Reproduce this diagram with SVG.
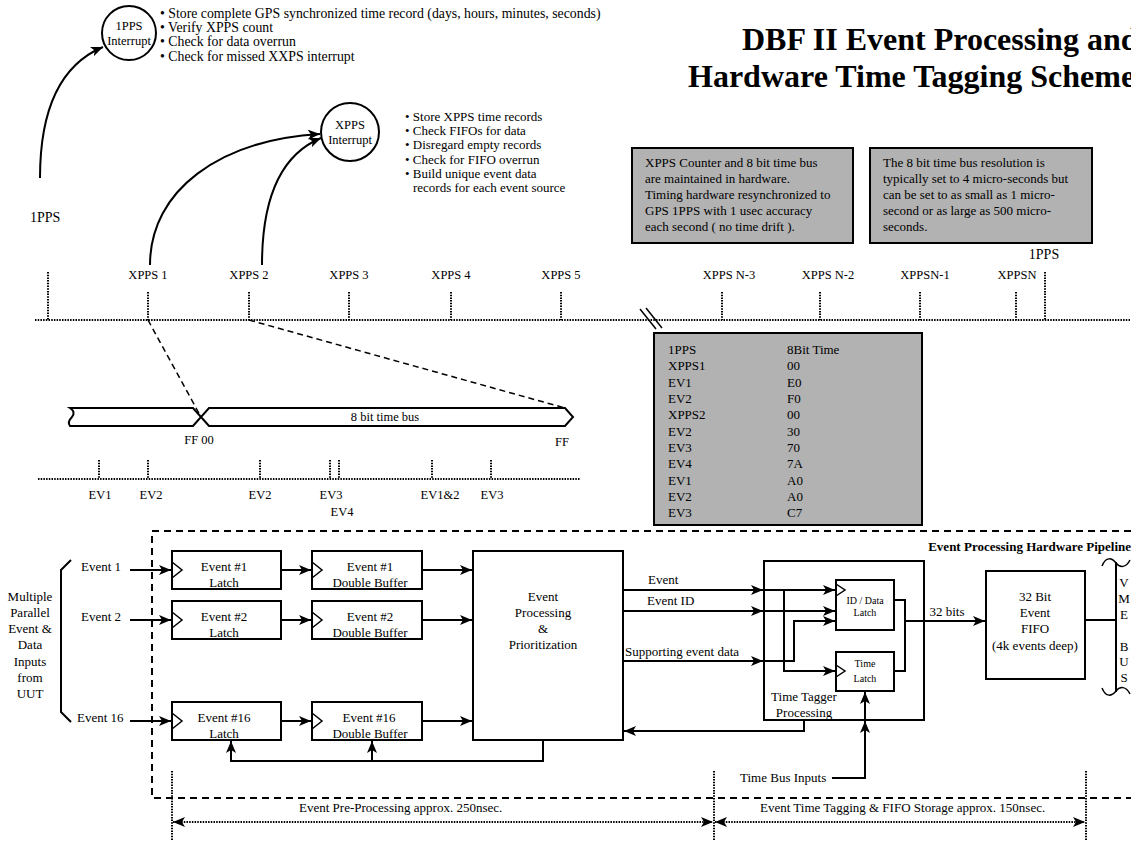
<svg xmlns="http://www.w3.org/2000/svg" width="1131" height="844" viewBox="0 0 1131 844">
<defs>
<marker id="ah" viewBox="0 0 12 10" markerWidth="12" markerHeight="10" refX="12" refY="5" orient="auto-start-reverse" markerUnits="userSpaceOnUse">
<path d="M0,0 L12,5 L0,10 L3,5 Z" fill="#000"/>
</marker>
</defs>
<style>
text{font-family:"Liberation Serif","Times New Roman",serif;fill:#000}
.s10{font-size:10px}.s12{font-size:12.5px}.s13{font-size:13px}.s14{font-size:14px}
.m{text-anchor:middle}
.box{fill:#fff;stroke:#000;stroke-width:2}
.gray{fill:#b2b2b2;stroke:#000;stroke-width:2}
.ln{fill:none;stroke:#000;stroke-width:2}
.thin{fill:none;stroke:#000;stroke-width:1.5}
.dot{fill:none;stroke:#000;stroke-width:2;stroke-dasharray:1.5 1.2}
.dash{fill:none;stroke:#000;stroke-width:2;stroke-dasharray:7 5}
.dash2{fill:none;stroke:#000;stroke-width:1.5;stroke-dasharray:6 4}
.arr{marker-end:url(#ah)}
</style>
<rect width="1131" height="844" fill="#fff"/>

<g id="title">
<text x="742" y="50" font-size="32" font-weight="bold">DBF II Event Processing and</text>
<text x="688" y="87" font-size="32" font-weight="bold">Hardware Time Tagging Scheme</text>
</g>

<g id="pps-interrupt">
<circle cx="129" cy="33" r="27" class="box"/>
<text x="129" y="30" class="s12 m">1PPS</text>
<text x="129" y="45" class="s12 m">Interrupt</text>
</g>
<g id="pps-notes" font-size="13.8">
<text x="160" y="18">• Store complete GPS synchronized time record (days, hours, minutes, seconds)</text>
<text x="160" y="32">• Verify XPPS count</text>
<text x="160" y="46">• Check for data overrun</text>
<text x="160" y="61">• Check for missed XXPS interrupt</text>
</g>

<g id="xpps-interrupt">
<circle cx="350" cy="132" r="29" class="box"/>
<text x="350" y="129" class="s12 m">XPPS</text>
<text x="350" y="144" class="s12 m">Interrupt</text>
</g>
<g id="xpps-notes" class="s13">
<text x="405" y="121">• Store XPPS time records</text>
<text x="405" y="135">• Check FIFOs for data</text>
<text x="405" y="149">• Disregard empty records</text>
<text x="405" y="164">• Check for FIFO overrun</text>
<text x="405" y="178">• Build unique event data</text>
<text x="413" y="192">records for each event source</text>
</g>

<g id="pps-label"><text x="30" y="222" class="s14">1PPS</text></g>

<g id="note1">
<rect x="632" y="148" width="221" height="95" class="gray"/>
<text class="s13"><tspan x="645" y="167">XPPS Counter and 8 bit time bus</tspan><tspan x="645" y="183">are maintained in hardware.</tspan><tspan x="645" y="199">Timing hardware resynchronized to</tspan><tspan x="645" y="215">GPS 1PPS  with 1 usec accuracy</tspan><tspan x="645" y="231">each second ( no time drift ).</tspan></text>
</g>
<g id="note2">
<rect x="870" y="148" width="222" height="95" class="gray"/>
<text class="s13"><tspan x="883" y="167">The 8 bit time bus resolution is</tspan><tspan x="883" y="183">typically set to 4 micro-seconds but</tspan><tspan x="883" y="199">can be set to as small as 1 micro-</tspan><tspan x="883" y="215">second or as large as 500 micro-</tspan><tspan x="883" y="231">seconds.</tspan></text>
</g>

<g id="timeline">
<line x1="35" y1="320" x2="1131" y2="320" class="dot"/>
<line x1="48" y1="272" x2="48" y2="320" class="dot"/>
<line x1="148" y1="292" x2="148" y2="320" class="dot"/>
<line x1="249" y1="292" x2="249" y2="320" class="dot"/>
<line x1="349" y1="292" x2="349" y2="320" class="dot"/>
<line x1="451" y1="292" x2="451" y2="320" class="dot"/>
<line x1="561" y1="292" x2="561" y2="320" class="dot"/>
<line x1="722" y1="292" x2="722" y2="320" class="dot"/>
<line x1="820" y1="292" x2="820" y2="320" class="dot"/>
<line x1="920" y1="292" x2="920" y2="320" class="dot"/>
<line x1="1016" y1="292" x2="1016" y2="320" class="dot"/>
<line x1="1045" y1="272" x2="1045" y2="320" class="dot"/>
<g class="s12 m">
<text x="148" y="279">XPPS 1</text>
<text x="249" y="279">XPPS 2</text>
<text x="349" y="279">XPPS 3</text>
<text x="451" y="279">XPPS 4</text>
<text x="561" y="279">XPPS 5</text>
<text x="729" y="279">XPPS N-3</text>
<text x="828" y="279">XPPS N-2</text>
<text x="925" y="279">XPPSN-1</text>
<text x="1017" y="279">XPPSN</text>
</g>
<text x="1044" y="259" class="s14 m">1PPS</text>
<line x1="640" y1="309" x2="656" y2="329" class="thin"/>
<line x1="646" y1="308" x2="662" y2="328" class="thin"/>
</g>

<g id="timebus">
<path d="M70,408 H193 L201,417 L193,426 H70 Q67,422 72,417 Q76,412 70,408 Z" class="box"/>
<path d="M209,408 H565 L573,417 L565,426 H209 L201,417 Z" class="box"/>
<text x="385" y="421" class="s12 m">8 bit time bus</text>
<text x="199" y="444" class="s12 m">FF 00</text>
<text x="562" y="446" class="s12 m">FF</text>
</g>

<g id="ev-timeline">
<line x1="38" y1="479" x2="580" y2="479" class="dot"/>
<line x1="99" y1="460" x2="99" y2="479" class="dot"/>
<line x1="148" y1="460" x2="148" y2="479" class="dot"/>
<line x1="260" y1="460" x2="260" y2="479" class="dot"/>
<line x1="330" y1="460" x2="330" y2="479" class="dot"/>
<line x1="339" y1="460" x2="339" y2="479" class="dot"/>
<line x1="432" y1="460" x2="432" y2="479" class="dot"/>
<line x1="491" y1="460" x2="491" y2="479" class="dot"/>
<g class="s12 m">
<text x="100" y="499">EV1</text>
<text x="151" y="499">EV2</text>
<text x="260" y="499">EV2</text>
<text x="331" y="499">EV3</text>
<text x="342" y="516">EV4</text>
<text x="440" y="499">EV1&amp;2</text>
<text x="492" y="499">EV3</text>
</g>
</g>

<g id="table">
<rect x="654" y="333" width="268" height="192" class="gray"/>
<g class="s13">
<text x="668" y="354">1PPS</text><text x="787" y="354">8Bit Time</text>
<text x="668" y="370">XPPS1</text><text x="787" y="370">00</text>
<text x="668" y="387">EV1</text><text x="787" y="387">E0</text>
<text x="668" y="403">EV2</text><text x="787" y="403">F0</text>
<text x="668" y="419">XPPS2</text><text x="787" y="419">00</text>
<text x="668" y="436">EV2</text><text x="787" y="436">30</text>
<text x="668" y="452">EV3</text><text x="787" y="452">70</text>
<text x="668" y="468">EV4</text><text x="787" y="468">7A</text>
<text x="668" y="485">EV1</text><text x="787" y="485">A0</text>
<text x="668" y="501">EV2</text><text x="787" y="501">A0</text>
<text x="668" y="517">EV3</text><text x="787" y="517">C7</text>
</g>
</g>

<g id="pipeline">
<path d="M1131,531 H152 V798 H1131" class="dash"/>
<text x="1131" y="551" font-size="13" font-weight="bold" text-anchor="end">Event Processing Hardware Pipeline</text>
</g>

<g id="inputs">
<path d="M71,560 L61,570 V712 L71,722" class="ln"/>
<g class="s13 m">
<text x="30" y="601">Multiple</text>
<text x="30" y="617">Parallel</text>
<text x="30" y="633">Event &amp;</text>
<text x="30" y="649">Data</text>
<text x="30" y="666">Inputs</text>
<text x="30" y="682">from</text>
<text x="30" y="698">UUT</text>
</g>
<text x="81" y="571" class="s13">Event 1</text>
<text x="81" y="621" class="s13">Event 2</text>
<text x="77" y="722" class="s13">Event 16</text>
</g>

<g id="latch1"><rect x="172" y="551" width="109" height="38" class="box"/><polyline points="172,562 182,570 172,578" class="thin"/><text x="224" y="571" class="s13 m">Event #1</text><text x="224" y="587" class="s13 m">Latch</text></g>
<g id="latch2"><rect x="172" y="601" width="109" height="38" class="box"/><polyline points="172,612 182,620 172,628" class="thin"/><text x="224" y="621" class="s13 m">Event #2</text><text x="224" y="637" class="s13 m">Latch</text></g>
<g id="latch16"><rect x="172" y="702" width="109" height="38" class="box"/><polyline points="172,713 182,721 172,729" class="thin"/><text x="224" y="722" class="s13 m">Event #16</text><text x="224" y="738" class="s13 m">Latch</text></g>
<g id="buf1"><rect x="312" y="551" width="110" height="38" class="box"/><polyline points="312,562 322,570 312,578" class="thin"/><text x="370" y="571" class="s13 m">Event #1</text><text x="370" y="587" class="s13 m">Double Buffer</text></g>
<g id="buf2"><rect x="312" y="601" width="110" height="38" class="box"/><polyline points="312,612 322,620 312,628" class="thin"/><text x="370" y="621" class="s13 m">Event #2</text><text x="370" y="637" class="s13 m">Double Buffer</text></g>
<g id="buf16"><rect x="312" y="702" width="110" height="38" class="box"/><polyline points="312,713 322,721 312,729" class="thin"/><text x="369" y="722" class="s13 m">Event #16</text><text x="370" y="738" class="s13 m">Double Buffer</text></g>

<g id="eventproc">
<rect x="473" y="551" width="150" height="189" class="box"/>
<g class="s13 m">
<text x="543" y="601">Event</text>
<text x="543" y="617">Processing</text>
<text x="543" y="633">&amp;</text>
<text x="543" y="649">Prioritization</text>
</g>
</g>

<g id="timetagger">
<rect x="764" y="561" width="160" height="159" class="box"/>
<text x="804" y="701" class="s13 m">Time Tagger</text>
<text x="804" y="717" class="s13 m">Processing</text>
</g>
<g id="idlatch">
<rect x="836" y="580" width="58" height="50" class="box"/>
<polyline points="836,584 845,590 836,596" class="thin"/>
<text x="865" y="604" class="s10 m">ID / Data</text>
<text x="865" y="616" class="s10 m">Latch</text>
</g>
<g id="timelatch">
<rect x="836" y="652" width="58" height="39" class="box"/>
<polyline points="836,665 845,671 836,677" class="thin"/>
<text x="865" y="667" class="s10 m">Time</text>
<text x="865" y="682" class="s10 m">Latch</text>
</g>

<g id="fifo">
<rect x="986" y="571" width="99" height="108" class="box"/>
<g class="s13 m">
<text x="1035" y="601">32 Bit</text>
<text x="1035" y="617">Event</text>
<text x="1035" y="633">FIFO</text>
<text x="1035" y="650">(4k events deep)</text>
</g>
</g>

<g id="vmebus">
<path d="M1116,562 V692" class="ln"/>
<path d="M1102,566 C1106,556 1112,558 1116,563 C1120,568 1126,568 1130,560" class="thin"/>
<path d="M1102,688 C1106,698 1112,696 1116,691 C1120,686 1126,686 1130,694" class="thin"/>
<g class="s13 m">
<text x="1124" y="587">V</text>
<text x="1124" y="603">M</text>
<text x="1124" y="619">E</text>
<text x="1124" y="651">B</text>
<text x="1124" y="666">U</text>
<text x="1124" y="682">S</text>
</g>
</g>

<g id="connectors">
<path d="M40,178 C40,110 60,65 103,47" class="ln arr"/>
<path d="M150,265 C150,190 220,140 320,134" class="ln arr"/>
<path d="M262,265 C262,200 280,155 321,138" class="ln arr"/>
<line x1="148" y1="320" x2="201" y2="417" class="dash2"/>
<line x1="249" y1="320" x2="565" y2="408" class="dash2"/>

<path d="M130,570 H171" class="ln arr"/>
<path d="M130,620 H171" class="ln arr"/>
<path d="M130,721 H171" class="ln arr"/>
<path d="M281,570 H311" class="ln arr"/>
<path d="M281,620 H311" class="ln arr"/>
<path d="M281,721 H311" class="ln arr"/>
<path d="M422,570 H472" class="ln arr"/>
<path d="M422,620 H472" class="ln arr"/>
<path d="M422,721 H472" class="ln arr"/>
<path d="M543,740 V761 H231 V741" class="ln arr"/>
<path d="M372,761 V741" class="ln arr"/>

<path d="M623,590 H763" class="ln arr"/>
<path d="M623,611 H763" class="ln arr"/>
<path d="M623,661 H763" class="ln arr"/>
<text x="648" y="584" class="s13">Event</text>
<text x="647" y="605" class="s13">Event ID</text>
<text x="625" y="656" class="s13">Supporting event data</text>

<path d="M764,590 H835" class="ln arr"/>
<path d="M784,590 V671 H835" class="ln arr"/>
<path d="M764,611 H835" class="ln arr"/>
<path d="M764,661 H794 V621 H835" class="ln arr"/>
<path d="M894,600 H905 V671 H894" class="ln"/>
<path d="M905,621 H985" class="ln arr"/>
<text x="947" y="616" class="s13 m">32 bits</text>
<path d="M1085,620 H1116" class="ln"/>

<path d="M804,720 V731 H624" class="ln arr"/>
<text x="740" y="782" class="s13">Time Bus Inputs</text>
<path d="M832,778 H865 V692" class="ln arr"/>
<path d="M865,745 V721" class="ln arr"/>

<line x1="172" y1="771" x2="172" y2="840" class="dot"/>
<line x1="714" y1="771" x2="714" y2="840" class="dot"/>
<line x1="1086" y1="771" x2="1086" y2="840" class="dot"/>
<path d="M173,822 H713" class="dot" marker-start="url(#ah)" marker-end="url(#ah)"/>
<path d="M715,822 H1085" class="dot" marker-start="url(#ah)" marker-end="url(#ah)"/>
<text x="299" y="812" class="s13">Event Pre-Processing approx. 250nsec.</text>
<text x="760" y="812" class="s13">Event Time Tagging &amp; FIFO Storage approx. 150nsec.</text>
</g>
</svg>
